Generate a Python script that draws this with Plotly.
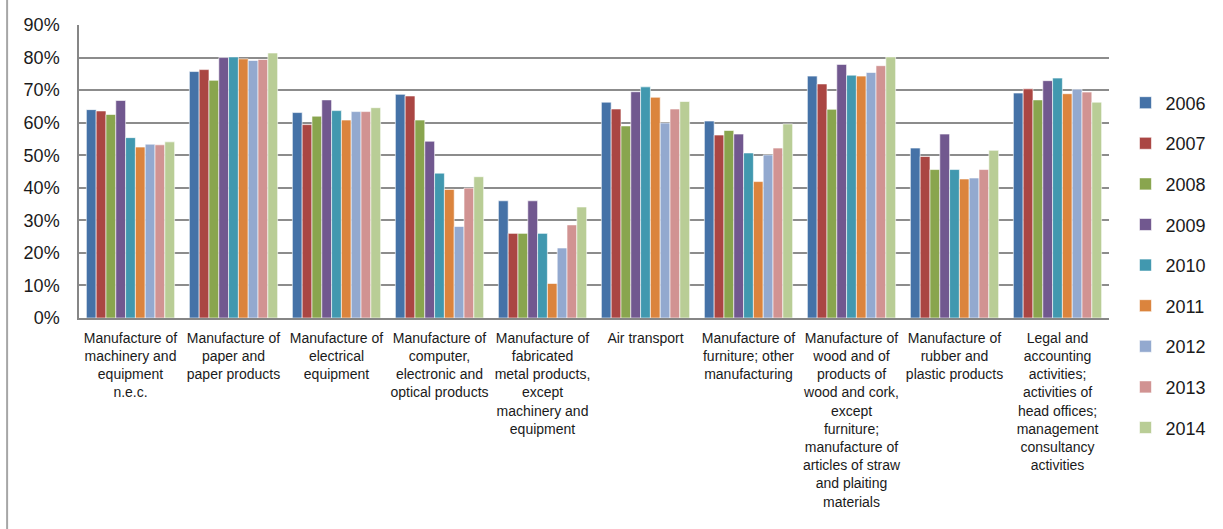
import plotly.graph_objects as go

categories = [
    "Manufacture of<br>machinery and<br>equipment<br>n.e.c.",
    "Manufacture of<br>paper and<br>paper products",
    "Manufacture of<br>electrical<br>equipment",
    "Manufacture of<br>computer,<br>electronic and<br>optical products",
    "Manufacture of<br>fabricated<br>metal products,<br>except<br>machinery and<br>equipment",
    "Air transport",
    "Manufacture of<br>furniture; other<br>manufacturing",
    "Manufacture of<br>wood and of<br>products of<br>wood and cork,<br>except<br>furniture;<br>manufacture of<br>articles of straw<br>and plaiting<br>materials",
    "Manufacture of<br>rubber and<br>plastic products",
    "Legal and<br>accounting<br>activities;<br>activities of<br>head offices;<br>management<br>consultancy<br>activities",
]

years = ["2006", "2007", "2008", "2009", "2010", "2011", "2012", "2013", "2014"]

v2006 = [64.0, 75.7, 63.1, 68.7, 36.0, 66.3, 60.5, 74.3, 52.2, 69.1]
v2007 = [63.6, 76.3, 59.4, 68.2, 26.0, 64.2, 56.2, 71.9, 49.6, 70.4]
v2008 = [62.5, 73.0, 62.0, 60.8, 26.0, 59.0, 57.6, 64.1, 45.6, 67.0]
v2009 = [66.8, 80.0, 67.0, 54.3, 36.0, 69.5, 56.5, 77.9, 56.5, 72.9]
v2010 = [55.4, 80.2, 63.7, 44.5, 26.0, 71.0, 50.7, 74.6, 45.6, 73.7]
v2011 = [52.5, 79.6, 60.8, 39.5, 10.6, 67.8, 41.9, 74.3, 42.7, 68.9]
v2012 = [53.4, 79.1, 63.4, 28.1, 21.5, 59.9, 50.1, 75.4, 43.0, 70.3]
v2013 = [53.2, 79.4, 63.4, 39.9, 28.6, 64.2, 52.2, 77.5, 45.6, 69.4]
v2014 = [54.1, 81.4, 64.6, 43.4, 34.1, 66.5, 59.6, 80.2, 51.5, 66.3]

series = [v2006, v2007, v2008, v2009, v2010, v2011, v2012, v2013, v2014]

colors = ["#4572A7", "#AA4643", "#89A54E", "#71588F", "#4198AF",
          "#DB843D", "#93A9CF", "#D19392", "#B9CD96"]

FONT = "Liberation Sans, Arial, sans-serif"

fig = go.Figure()
for yr, vals, col in zip(years, series, colors):
    fig.add_trace(go.Bar(
        x=categories, y=vals, name=yr, legendgroup=yr,
        marker=dict(color=col, line=dict(color="white", width=0.6)),
    ))

fig.update_layout(
    width=1223, height=529,
    margin=dict(l=79, r=112, t=25, b=211),
    paper_bgcolor="white", plot_bgcolor="white",
    barmode="group", bargap=0.143, bargroupgap=0,
    font=dict(family=FONT, color="#1a1a1a"),
    showlegend=True,
    legend=dict(
        x=1.016, y=0.797, xanchor="left", yanchor="top",
        font=dict(size=18, family=FONT, color="#1a1a1a"),
        tracegroupgap=14.2, bgcolor="rgba(0,0,0,0)",
        maxheight=520,
    ),
    xaxis=dict(
        showgrid=False, showline=True, linecolor="#868686", linewidth=2,
        tickfont=dict(size=14, family=FONT, color="#1a1a1a"),
        automargin=False, tickangle=0, ticks="",
        ticklabelstandoff=6,
    ),
    yaxis=dict(
        range=[0, 90], dtick=10, ticksuffix="%",
        showgrid=True, gridcolor="#8c8c8c", gridwidth=1.5,
        showline=True, linecolor="#868686", linewidth=1.5,
        zeroline=False,
        tickfont=dict(size=18, family=FONT, color="#1a1a1a"),
        ticklabelstandoff=14, automargin=False,
    ),
    shapes=[dict(
        type="line", xref="paper", yref="paper",
        x0=-0.0698, x1=-0.0698, y0=-0.73, y1=1.09,
        line=dict(color="#a6a6a6", width=2),
    )],
)

fig.write_html("out.html")
